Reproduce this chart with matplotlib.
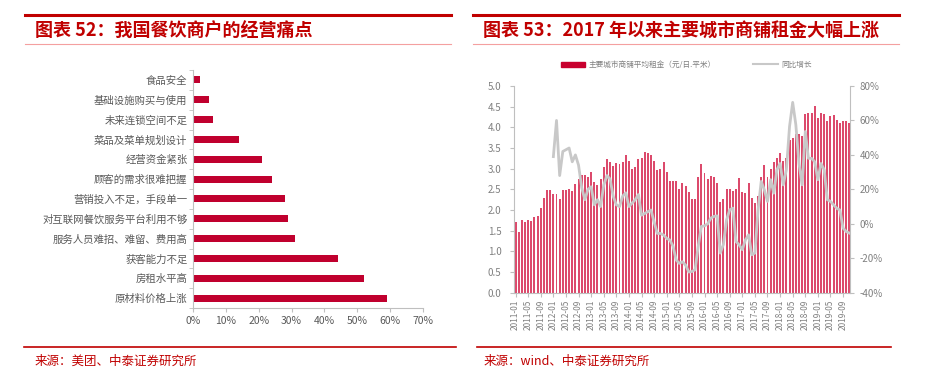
import numpy as np
import matplotlib
matplotlib.use('Agg')
import matplotlib.pyplot as plt
from matplotlib.lines import Line2D
from matplotlib.patches import Patch
from matplotlib.ticker import FuncFormatter, FixedLocator

plt.rcParams['font.family'] = ['Noto Sans CJK SC', 'DejaVu Sans']

# ---- data: left chart ----
pain_points = ['原材料价格上涨', '房租水平高', '获客能力不足', '服务人员难招、难留、费用高',
               '对互联网餐饮服务平台利用不够', '营销投入不足，手段单一', '顾客的需求很难把握',
               '经营资金紧张', '菜品及菜单规划设计', '未来连锁空间不足', '基础设施购买与使用', '食品安全']
pain_share = [59, 52, 44, 31, 29, 28, 24, 21, 14, 6, 5, 2]

# ---- data: right chart (monthly, 2011-01 .. 2019-11) ----
rent_2011 = [1.72, 1.48, 1.77, 1.72, 1.76, 1.74, 1.84, 1.86, 2.04, 2.30, 2.48, 2.48]
rent_2012 = [2.39, 2.39, 2.27, 2.48, 2.48, 2.51, 2.47, 2.62, 2.74, 2.85, 2.85, 2.81]
rent_2013 = [2.93, 2.67, 2.60, 2.74, 3.05, 3.23, 3.15, 3.07, 3.13, 3.12, 3.15, 3.32]
rent_2014 = [3.19, 3.00, 3.03, 3.23, 3.25, 3.40, 3.37, 3.32, 3.18, 2.98, 2.99, 3.15]
rent_2015 = [2.93, 2.71, 2.70, 2.70, 2.52, 2.65, 2.58, 2.44, 2.27, 2.27, 2.81, 3.12]
rent_2016 = [2.90, 2.75, 2.82, 2.79, 2.66, 2.20, 2.26, 2.52, 2.50, 2.46, 2.50, 2.77]
rent_2017 = [2.44, 2.40, 2.65, 2.28, 2.18, 2.34, 2.79, 3.09, 2.81, 2.99, 3.17, 3.25]
rent_2018 = [3.37, 3.19, 3.25, 3.69, 3.75, 3.84, 3.84, 3.79, 4.32, 4.35, 4.35, 4.52]
rent_2019 = [4.22, 4.34, 4.32, 4.16, 4.27, 4.30, 4.18, 4.10, 4.15, 4.15, 4.11]

# yoy growth (%), starts 2012-01
yoy_2012 = [39, 60, 28, 42, 43, 44, 36, 40, 34, 21, 14, 20]
yoy_2013 = [21.5, 11, 14, 10, 22.5, 28, 26, 16, 11, 10, 16, 18]
yoy_2014 = [10, 12, 14, 17, 5, 6, 7, 8, 1, -5.6, -5.6, -6.5]
yoy_2015 = [-8.5, -9.4, -13, -21, -23, -22, -24, -28, -27.7, -26.7, -13, -1.5]
yoy_2016 = [-1.2, 0, 3.3, 4.3, 4.6, -17, -12, 2.3, 8.1, 9.1, -10.3, -12.2]
yoy_2017 = [-15, -9.3, -6.4, -18, -17, 8, 24.6, 19.7, 13, 25.6, 17.8, 31.4]
yoy_2018 = [35, 22.6, 31.4, 56.5, 70.5, 57.5, 35, 22.6, 53.6, 38, 38, 36]
yoy_2019 = [25.6, 35, 31.4, 14, 13, 11, 9, 8, -2.5, -4.5, -5.4]

rent = rent_2011 + rent_2012 + rent_2013 + rent_2014 + rent_2015 + rent_2016 + rent_2017 + rent_2018 + rent_2019
yoy = yoy_2012 + yoy_2013 + yoy_2014 + yoy_2015 + yoy_2016 + yoy_2017 + yoy_2018 + yoy_2019
months = [f'{2011 + i // 12}-{i % 12 + 1:02d}' for i in range(len(rent))]

RED = '#c00000'
GRAY = '#808080'
SPINE = '#bfbfbf'

W, H = 935, 383
fig = plt.figure(figsize=(W / 100, H / 100), dpi=100)

def px(x0, y0, x1, y1):
    # pixel box (top-left origin) -> figure fraction rect
    return [x0 / W, 1 - y1 / H, (x1 - x0) / W, (y1 - y0) / H]

def hline(x0, x1, y, color, lw):
    fig.add_artist(Line2D([x0 / W, x1 / W], [1 - y / H, 1 - y / H], color=color, lw=lw,
                          transform=fig.transFigure))

# headers / footers
hline(25, 451, 15, '#c00000', 2.2)
hline(25, 451, 44, '#f4a0a0', 0.8)
hline(473, 899, 15, '#c00000', 2.2)
hline(473, 899, 44, '#f4a0a0', 0.8)
hline(24, 456, 347, '#c00000', 1.2)
hline(477, 891, 347, '#c00000', 1.2)

fig.text(35 / W, 1 - 31 / H, '图表 52：我国餐饮商户的经营痛点', color=RED, fontsize=13,
         fontweight='bold', fontstyle='italic', va='center', ha='left')
fig.text(483 / W, 1 - 31 / H, '图表 53：2017 年以来主要城市商铺租金大幅上涨', color=RED, fontsize=13,
         fontweight='bold', fontstyle='italic', va='center', ha='left')
fig.text(35 / W, 1 - 361 / H, '来源：美团、中泰证券研究所', color=RED, fontsize=9, va='center')
fig.text(484 / W, 1 - 361 / H, '来源：wind、中泰证券研究所', color=RED, fontsize=9, va='center')

# ---- left chart ----
ax1 = fig.add_axes(px(193, 70, 423, 308))
ypos = np.arange(len(pain_points))
ax1.barh(ypos, pain_share, height=0.36, color='#c0002e')
ax1.set_xlim(0, 70)
ax1.set_ylim(-0.5, len(pain_points) - 0.5)
ax1.set_xticks(range(0, 71, 10))
ax1.xaxis.set_major_formatter(FuncFormatter(lambda v, p: f'{v:.0f}%'))
ax1.set_yticks(ypos)
ax1.set_yticklabels(pain_points)
ax1.yaxis.set_minor_locator(FixedLocator(np.arange(-0.5, len(pain_points), 1)))
ax1.tick_params(axis='y', which='major', length=0, pad=4, labelsize=7.5, labelcolor='#595959')
ax1.tick_params(axis='y', which='minor', length=3, color=SPINE)
ax1.tick_params(axis='x', length=3, color=SPINE, labelsize=7.5, labelcolor='#595959', pad=3)
for s in ['top', 'right']:
    ax1.spines[s].set_visible(False)
for s in ['left', 'bottom']:
    ax1.spines[s].set_color(SPINE)

# ---- right chart ----
ax2 = fig.add_axes(px(514, 86, 850, 292.7))
x = np.arange(len(rent))
ax2.bar(x, rent, width=0.62, color='#dc4a6c', zorder=2)
ax2.set_xlim(-0.5, len(rent) - 0.8)
ax2.set_ylim(0, 5)
ax2.set_yticks(np.arange(0, 5.01, 0.5))
ax2.yaxis.set_major_formatter(FuncFormatter(lambda v, p: f'{v:.1f}'))
ax2.set_xticks(x[::4])
ax2.set_xticklabels(months[::4], rotation=90)
ax2.tick_params(axis='x', length=3, color=SPINE, labelsize=6, labelcolor=GRAY, pad=2)
ax2.tick_params(axis='y', length=3, color=SPINE, labelsize=7, labelcolor=GRAY, pad=6)
for s in ['top', 'right']:
    ax2.spines[s].set_visible(False)
for s in ['left', 'bottom']:
    ax2.spines[s].set_color(SPINE)

ax3 = ax2.twinx()
ax3.plot(x[12:], yoy, color='#c8c8c8', lw=2, zorder=3)
ax3.set_ylim(-40, 80)
ax3.set_yticks(range(-40, 81, 20))
ax3.yaxis.set_major_formatter(FuncFormatter(lambda v, p: f'{v:.0f}%'))
ax3.tick_params(axis='y', length=3, color=SPINE, labelsize=7, labelcolor=GRAY, pad=4)
for s in ['top', 'left', 'bottom']:
    ax3.spines[s].set_visible(False)
ax3.spines['right'].set_color(SPINE)

handles = [Patch(color='#c8002e'), Line2D([], [], color='#c8c8c8', lw=1.5)]
labels = ['主要城市商铺平均租金（元/日.平米）', '同比增长']
fig.legend(handles, labels, loc='center', bbox_to_anchor=(686 / W, 1 - 65 / H), ncol=2,
           frameon=False, fontsize=5.5, labelcolor=GRAY, handlelength=3.2, handleheight=0.6,
           columnspacing=5, handletextpad=0.4)

fig.savefig('out.png', dpi=100)
